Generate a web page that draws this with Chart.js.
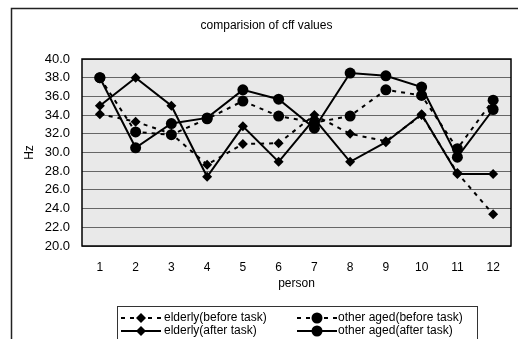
<!DOCTYPE html>
<html><head><meta charset="utf-8">
<script src="https://cdn.jsdelivr.net/npm/chart.js@4/dist/chart.umd.min.js"></script>
<style>html,body{margin:0;padding:0;background:#fff;}#wrap{width:518px;height:339px;}</style>
</head><body><div id="wrap"><canvas id="c" width="518" height="339"></canvas></div>
<script>
const persons = ['1','2','3','4','5','6','7','8','9','10','11','12'];
const elderlyBefore = [34.1, 33.3, 32.0, 28.7, 30.9, 31.0, 34.0, 32.0, 31.2, 34.0, 27.8, 23.4];
const otherBefore   = [38.0, 32.2, 31.9, 33.6, 35.5, 33.9, 33.2, 33.9, 36.7, 36.1, 30.4, 35.6];
const elderlyAfter  = [35.0, 38.0, 35.0, 27.4, 32.8, 29.0, 33.6, 29.0, 31.1, 34.1, 27.7, 27.7];
const otherAfter    = [38.0, 30.5, 33.1, 33.7, 36.7, 35.7, 32.6, 38.5, 38.2, 37.0, 29.5, 34.6];
const seriesNames = ['elderly(before task)', 'other aged(before task)', 'elderly(after task)', 'other aged(after task)'];
const yMin = 20, yMax = 40, yStep = 2;

Chart.defaults.font.family = "'Liberation Sans', Arial, sans-serif";
Chart.defaults.color = '#000';

function ds(label, data, dashed, style, r) {
  return {
    label, data,
    borderColor: '#000', backgroundColor: '#000',
    borderWidth: 2, borderDash: dashed ? [4, 5] : [],
    pointStyle: style, pointRadius: r, pointHoverRadius: r,
    pointBorderWidth: 0, tension: 0, fill: false
  };
}

const frame = {
  id: 'frame',
  beforeDraw(chart) {
    const {ctx, chartArea: a} = chart;
    ctx.save();
    ctx.fillStyle = '#fff';
    ctx.fillRect(0, 0, chart.width, chart.height);
    ctx.strokeStyle = '#222';
    ctx.lineWidth = 1.5;
    ctx.strokeRect(11.5, 8.5, 540, 400);
    ctx.fillStyle = '#e9e9e9';
    ctx.fillRect(a.left, a.top, a.right - a.left, a.bottom - a.top);
    ctx.restore();
  },
  beforeDatasetsDraw(chart) {
    const {ctx, chartArea: a} = chart;
    ctx.save();
    ctx.strokeStyle = '#000';
    ctx.lineWidth = 1.5;
    ctx.strokeRect(a.left, a.top, a.right - a.left, a.bottom - a.top);
    ctx.restore();
  }
};

const legendBox = {
  id: 'legendBox',
  afterDraw(chart) {
    const {ctx} = chart;
    const x0 = 117, y0 = 306, x1 = 477;
    ctx.save();
    ctx.strokeStyle = '#333';
    ctx.lineWidth = 1;
    ctx.strokeRect(x0 + 0.5, y0 + 0.5, x1 - x0, 60);
    const cols = [{sx: 121, tx: 164}, {sx: 297, tx: 338}];
    const rows = [318, 331];
    chart.data.datasets.forEach((d, i) => {
      const col = cols[i % 2], y = rows[Math.floor(i / 2)];
      ctx.strokeStyle = '#000';
      ctx.lineWidth = 2;
      ctx.setLineDash(d.borderDash);
      ctx.beginPath();
      ctx.moveTo(col.sx, y);
      ctx.lineTo(col.sx + 40, y);
      ctx.stroke();
      ctx.setLineDash([]);
      Chart.helpers.drawPoint(ctx, {pointStyle: d.pointStyle, radius: d.pointRadius, borderWidth: 0}, col.sx + 20, y);
      ctx.fillStyle = '#000';
      ctx.font = "12px 'Liberation Sans', Arial, sans-serif";
      ctx.textBaseline = 'middle';
      ctx.textAlign = 'left';
      ctx.fillText(d.label, col.tx, y);
    });
    ctx.restore();
  }
};

new Chart(document.getElementById('c'), {
  type: 'line',
  data: {
    labels: persons,
    datasets: [
      ds(seriesNames[0], elderlyBefore, true, 'rectRot', 5),
      ds(seriesNames[1], otherBefore, true, 'circle', 5.5),
      ds(seriesNames[2], elderlyAfter, false, 'rectRot', 5),
      ds(seriesNames[3], otherAfter, false, 'circle', 5.5)
    ]
  },
  options: {
    responsive: false,
    devicePixelRatio: 1,
    animation: false,
    layout: {padding: {left: 22, right: 7, top: 0, bottom: 48}},
    plugins: {
      legend: {display: false},
      tooltip: {enabled: false},
      title: {
        display: true, text: 'comparision of cff values',
        font: {size: 12, weight: 'normal'}, color: '#000',
        padding: {top: 18, bottom: 26.6}
      }
    },
    scales: {
      x: {
        type: 'category', offset: true,
        grid: {display: false, drawTicks: false},
        border: {display: false},
        ticks: {padding: 14, font: {size: 12}, color: '#000', maxRotation: 0, autoSkip: false},
        title: {display: true, text: 'person', font: {size: 12}, color: '#000', padding: {top: 0, bottom: 0}},
        afterFit(s) { s.height = 45; }
      },
      y: {
        min: yMin, max: yMax,
        grid: {color: '#666', lineWidth: 1, drawTicks: false},
        border: {display: false},
        ticks: {stepSize: yStep, padding: 12, font: {size: 13}, color: '#000', callback: v => v.toFixed(1)},
        title: {display: true, text: 'Hz', font: {size: 12}, color: '#000', padding: {top: 0, bottom: 0}},
        afterFit(s) { s.width = 60; }
      }
    }
  },
  plugins: [frame, legendBox]
});
</script>
</body></html>
